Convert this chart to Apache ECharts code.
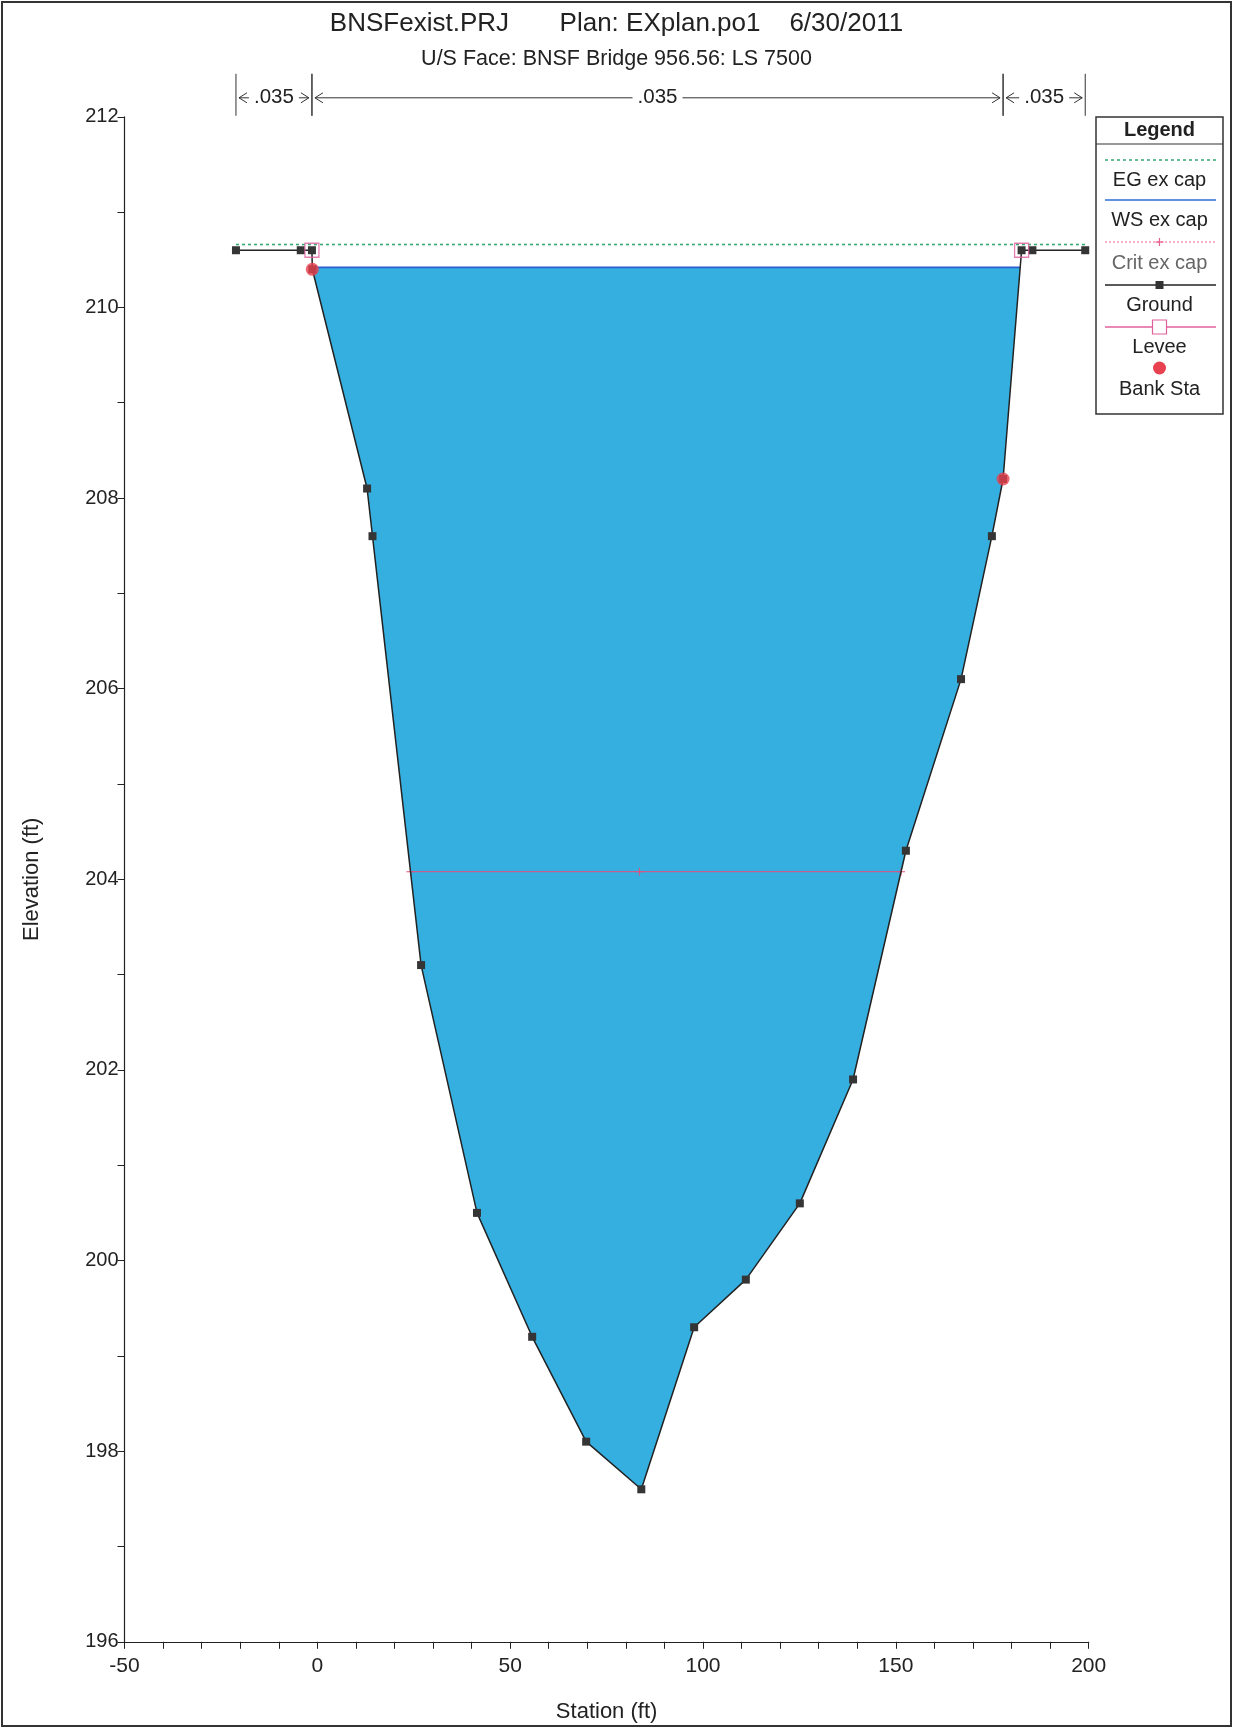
<!DOCTYPE html>
<html>
<head>
<meta charset="utf-8">
<title>BNSF Bridge cross section</title>
<script src="https://cdn.jsdelivr.net/npm/echarts@6.0.0/dist/echarts.min.js"></script>
<style>
  html, body { margin: 0; padding: 0; background: #fff; }
  #chart { width: 1233px; height: 1728px; }
</style>
</head>
<body>
<div id="chart"></div>
<script>
// ground profile (station ft, elevation ft)
const groundSta = [-21.1, -4.3, -1.4, -1.3, 12.9, 14.3, 26.9, 41.4, 55.7, 69.7, 84.0, 97.7, 111.1, 125.1, 138.9, 152.6, 166.9, 174.9, 177.8, 182.6, 185.4, 199.1]
const groundElev = [210.6, 210.6, 210.6, 210.4, 208.1, 207.6, 203.1, 200.5, 199.2, 198.1, 197.6, 199.3, 199.8, 200.6, 201.9, 204.3, 206.1, 207.6, 208.2, 210.6, 210.6, 210.6]

const leveeSta = [-1.4, 182.6]
const leveeElev = [210.6, 210.6]
const bankSta = [-1.3, 177.8]
const bankElev = [210.4, 208.2]

const wsElev = 210.42 // WS ex cap
const egElev = 210.66 // EG ex cap
const critElev = 204.08 // Crit ex cap
const critMidSta = 83.5

// manning n breaks on top
const nBreaks = [-21.1, -1.4, 177.8, 199.1]
const nValues = ['.035', '.035', '.035']

const xTicks = [-50, 200, 50]
const yTicks = [196, 212, 2]

const FONT = 'Liberation Sans, Arial, sans-serif'

// where the ground crosses a level
function crossings(level) {
  const xs = []
  for (let i = 1; i < groundSta.length; i++) {
    const y0 = groundElev[i - 1]
    const y1 = groundElev[i]
    if ((y0 - level) * (y1 - level) < 0) {
      const t = (level - y0) / (y1 - y0)
      xs.push(groundSta[i - 1] + t * (groundSta[i] - groundSta[i - 1]))
    }
  }
  return xs
}

// wetted polygon under the water surface
function waterPolygon(level) {
  const xs = crossings(level)
  const left = xs[0]
  const right = xs[xs.length - 1]
  const pts = [[left, level]]
  for (let i = 0; i < groundSta.length; i++) {
    if (groundSta[i] > left && groundSta[i] < right && groundElev[i] < level) {
      pts.push([groundSta[i], groundElev[i]])
    }
  }
  pts.push([right, level])
  return pts
}

const waterPts = waterPolygon(wsElev)
const wsX = crossings(wsElev)
const critX = crossings(critElev)

const groundData = groundSta.map((s, i) => [s, groundElev[i]])
const leveeData = leveeSta.map((s, i) => [s, leveeElev[i]])
const bankData = bankSta.map((s, i) => [s, bankElev[i]])
const nSegments = nValues.map((v, i) => [nBreaks[i], nBreaks[i + 1]])

const plusPath = 'path://M0,4.4H10V5.6H0Z M4.4,0H5.6V10H4.4Z'

const chart = echarts.init(document.getElementById('chart'))

// legend box drawn by hand (symbol over label, like HEC-RAS)
const lgX = 1096
const lgY = 117
const lgW = 127
const lgH = 297
const lx0 = 1105
const lx1 = 1216
const lcx = lgX + lgW / 2
const legendEls = [
  { type: 'rect', shape: { x: lgX, y: lgY, width: lgW, height: lgH }, style: { fill: '#fff', stroke: '#333', lineWidth: 1.5 } },
  { type: 'text', x: lcx, y: 130, style: { text: 'Legend', font: 'bold 20px ' + FONT, fill: '#222', align: 'center', verticalAlign: 'middle' } },
  { type: 'line', shape: { x1: lgX, y1: 144, x2: lgX + lgW, y2: 144 }, style: { stroke: '#333', lineWidth: 1.2 } },
  // EG
  { type: 'line', shape: { x1: lx0, y1: 160, x2: lx1, y2: 160 }, style: { stroke: '#35a874', lineWidth: 1.5, lineDash: [3, 3] } },
  { type: 'text', x: lcx, y: 180, style: { text: 'EG ex cap', font: '20px ' + FONT, fill: '#222', align: 'center', verticalAlign: 'middle' } },
  // WS
  { type: 'line', shape: { x1: lx0, y1: 200, x2: lx1, y2: 200 }, style: { stroke: '#2a6fd6', lineWidth: 1.5 } },
  { type: 'text', x: lcx, y: 220, style: { text: 'WS ex cap', font: '20px ' + FONT, fill: '#222', align: 'center', verticalAlign: 'middle' } },
  // Crit
  { type: 'line', shape: { x1: lx0, y1: 242, x2: lx1, y2: 242 }, style: { stroke: '#ee7fa6', lineWidth: 1.2, lineDash: [2, 2] } },
  { type: 'line', shape: { x1: lcx, y1: 238, x2: lcx, y2: 246 }, style: { stroke: '#e8608c', lineWidth: 1.2 } },
  { type: 'line', shape: { x1: lcx - 4, y1: 242, x2: lcx + 4, y2: 242 }, style: { stroke: '#e8608c', lineWidth: 1.2 } },
  { type: 'text', x: lcx, y: 263, style: { text: 'Crit ex cap', font: '20px ' + FONT, fill: '#666', align: 'center', verticalAlign: 'middle' } },
  // Ground
  { type: 'line', shape: { x1: lx0, y1: 285, x2: lx1, y2: 285 }, style: { stroke: '#222', lineWidth: 1.5 } },
  { type: 'rect', shape: { x: lcx - 4, y: 281, width: 8, height: 8 }, style: { fill: '#333' } },
  { type: 'text', x: lcx, y: 305, style: { text: 'Ground', font: '20px ' + FONT, fill: '#222', align: 'center', verticalAlign: 'middle' } },
  // Levee
  { type: 'line', shape: { x1: lx0, y1: 327, x2: lx1, y2: 327 }, style: { stroke: '#e0609c', lineWidth: 1.5 } },
  { type: 'rect', shape: { x: lcx - 7, y: 320, width: 14, height: 14 }, style: { fill: '#fff', stroke: '#e0609c', lineWidth: 1.2 } },
  { type: 'text', x: lcx, y: 347, style: { text: 'Levee', font: '20px ' + FONT, fill: '#222', align: 'center', verticalAlign: 'middle' } },
  // Bank Sta
  { type: 'circle', shape: { cx: lcx, cy: 368, r: 6.5 }, style: { fill: '#e8414f' } },
  { type: 'text', x: lcx, y: 389, style: { text: 'Bank Sta', font: '20px ' + FONT, fill: '#222', align: 'center', verticalAlign: 'middle' } }
]

const option = {
  animation: false,
  backgroundColor: '#fff',
  title: [
    {
      text: 'BNSFexist.PRJ       Plan: EXplan.po1    6/30/2011',
      left: 'center',
      top: 11,
      padding: 0,
      textStyle: { fontFamily: FONT, fontSize: 26, fontWeight: 'normal', color: '#222' }
    },
    {
      text: 'U/S Face: BNSF Bridge 956.56: LS 7500',
      left: 'center',
      top: 48,
      padding: 0,
      textStyle: { fontFamily: FONT, fontSize: 21.5, fontWeight: 'normal', color: '#222' }
    }
  ],
  grid: { left: 124.5, right: 144.3, top: 116.8, bottom: 86.2, containLabel: false },
  xAxis: {
    type: 'value',
    min: xTicks[0],
    max: xTicks[1],
    interval: xTicks[2],
    name: 'Station (ft)',
    nameLocation: 'middle',
    nameGap: 59,
    nameTextStyle: { fontFamily: FONT, fontSize: 22, color: '#222' },
    axisLine: { onZero: false, lineStyle: { color: '#222', width: 1.2 } },
    axisTick: { length: 7, lineStyle: { color: '#222' } },
    minorTick: { show: true, splitNumber: 5, length: 7, lineStyle: { color: '#222' } },
    splitLine: { show: false },
    axisLabel: { fontFamily: FONT, fontSize: 21, color: '#222', margin: 14 }
  },
  yAxis: {
    type: 'value',
    min: yTicks[0],
    max: yTicks[1],
    interval: yTicks[2],
    name: 'Elevation (ft)',
    nameLocation: 'middle',
    nameGap: 82,
    nameTextStyle: { fontFamily: FONT, fontSize: 22, color: '#222' },
    axisLine: { show: true, onZero: false, lineStyle: { color: '#222', width: 1.2 } },
    axisTick: { show: true, length: 7, lineStyle: { color: '#222' } },
    minorTick: { show: true, splitNumber: 2, length: 7, lineStyle: { color: '#222' } },
    splitLine: { show: false },
    axisLabel: { fontFamily: FONT, fontSize: 20, color: '#222', margin: 6 }
  },
  graphic: [
    // page frame
    { type: 'rect', shape: { x: 2, y: 2, width: 1229, height: 1724 }, style: { fill: 'none', stroke: '#333', lineWidth: 2 }, silent: true },
    { type: 'group', children: legendEls, silent: true }
  ],
  series: [
    {
      name: 'water',
      type: 'custom',
      z: 1,
      clip: true,
      data: [[0, 0]],
      renderItem(params, api) {
        return {
          type: 'polygon',
          shape: { points: waterPts.map(p => api.coord(p)) },
          style: { fill: '#34afe0', stroke: 'none' }
        }
      }
    },
    {
      name: 'Crit ex cap',
      type: 'line',
      z: 2,
      data: [[critX[0], critElev], [critMidSta, critElev], [critX[critX.length - 1], critElev]],
      symbol: plusPath,
      symbolSize: 8,
      itemStyle: { color: '#e2507e' },
      lineStyle: { color: '#e2507e', width: 1 }
    },
    {
      name: 'WS ex cap',
      type: 'line',
      z: 3,
      data: [[wsX[0], wsElev], [wsX[wsX.length - 1], wsElev]],
      symbol: 'none',
      lineStyle: { color: '#2a5fd0', width: 1.6 }
    },
    {
      name: 'EG ex cap',
      type: 'line',
      z: 3,
      data: [[groundSta[0], egElev], [groundSta[groundSta.length - 1], egElev]],
      symbol: 'none',
      lineStyle: { color: '#35a874', width: 1.6, type: [3, 3] }
    },
    {
      name: 'Ground',
      type: 'line',
      z: 4,
      data: groundData,
      symbol: 'rect',
      symbolSize: 8,
      itemStyle: { color: '#353535' },
      lineStyle: { color: '#222', width: 1.5 }
    },
    {
      name: 'Levee',
      type: 'scatter',
      z: 5,
      data: leveeData,
      symbol: 'rect',
      symbolSize: 14,
      itemStyle: { color: 'rgba(0,0,0,0)', borderColor: '#e0609c', borderWidth: 1.3 }
    },
    {
      name: 'Bank Sta',
      type: 'scatter',
      z: 6,
      data: bankData,
      symbol: 'circle',
      symbolSize: 13,
      itemStyle: { color: '#e8414f' }
    },
    {
      // manning n dimension bars above the plot
      name: 'n values',
      type: 'custom',
      z: 2,
      clip: false,
      silent: true,
      encode: { x: [0, 1] },
      data: nSegments,
      renderItem(params, api) {
        const xa = api.coord([api.value(0), yTicks[1]])
        const xb = api.coord([api.value(1), yTicks[1]])
        const top = xa[1]
        const ay = top - 19
        const a = xa[0]
        const b = xb[0]
        const mid = (a + b) / 2
        const half = 25
        const ln = { stroke: '#333', lineWidth: 1 }
        const kids = [
          { type: 'line', shape: { x1: a, y1: top - 43, x2: a, y2: top - 1 }, style: ln },
          { type: 'line', shape: { x1: b, y1: top - 43, x2: b, y2: top - 1 }, style: ln },
          { type: 'polyline', shape: { points: [[a + 11, ay - 5], [a + 3, ay], [a + 11, ay + 5]] }, style: { stroke: '#333', lineWidth: 1, fill: 'none' } },
          { type: 'polyline', shape: { points: [[b - 11, ay - 5], [b - 3, ay], [b - 11, ay + 5]] }, style: { stroke: '#333', lineWidth: 1, fill: 'none' } },
          { type: 'line', shape: { x1: a + 3, y1: ay, x2: Math.max(a + 10, mid - half), y2: ay }, style: ln },
          { type: 'line', shape: { x1: b - 3, y1: ay, x2: Math.min(b - 10, mid + half), y2: ay }, style: ln },
          { type: 'text', x: mid, y: ay, style: { text: nValues[params.dataIndex], font: '20.5px ' + FONT, fill: '#222', align: 'center', verticalAlign: 'middle' } }
        ]
        return { type: 'group', children: kids }
      }
    }
  ]
}

chart.setOption(option)
</script>
</body>
</html>
